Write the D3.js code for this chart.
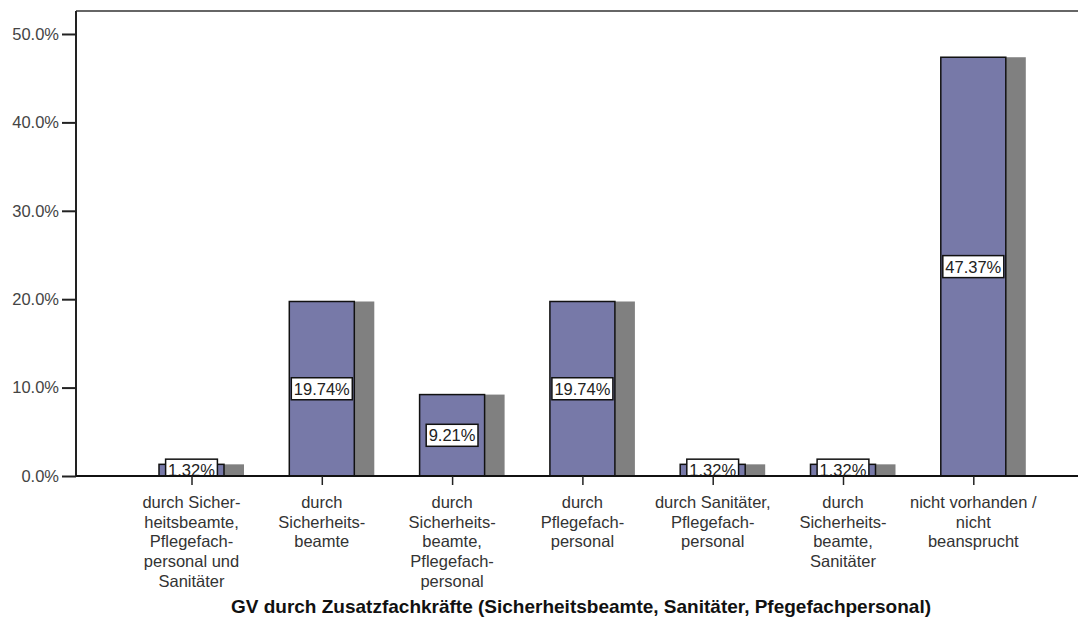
<!DOCTYPE html>
<html>
<head>
<meta charset="utf-8">
<script src="https://cdn.jsdelivr.net/npm/d3@7"></script>
<style>
  html, body { margin: 0; padding: 0; background: #fff; }
  svg { display: block; font-family: "Liberation Sans", Arial, sans-serif; }
</style>
</head>
<body>
<svg id="chart" width="1078" height="619"></svg>
<script>
// Category labels (multi-line, as printed under each bar)
const categories = [
  ["durch Sicher-", "heitsbeamte,", "Pflegefach-", "personal und", "Sanitäter"],
  ["durch", "Sicherheits-", "beamte"],
  ["durch", "Sicherheits-", "beamte,", "Pflegefach-", "personal"],
  ["durch", "Pflegefach-", "personal"],
  ["durch Sanitäter,", "Pflegefach-", "personal"],
  ["durch", "Sicherheits-", "beamte,", "Sanitäter"],
  ["nicht vorhanden /", "nicht", "beansprucht"]
];
// Percent of cases per category
const values = [1.32, 19.74, 9.21, 19.74, 1.32, 1.32, 47.37];
const yTicks = [0, 10, 20, 30, 40, 50];
const xTitle = "GV durch Zusatzfachkräfte (Sicherheitsbeamte, Sanitäter, Pfegefachpersonal)";

const svg = d3.select("#chart");
const plotL = 76, plotR = 1078, plotT = 11, plotB = 476;
const barW = 65, depth = 20;

const x = d3.scalePoint()
  .domain(d3.range(values.length))
  .range([126.35, 1038.45])
  .padding(0.5);

const y = d3.scaleLinear()
  .domain([0, 52.6])
  .range([plotB, plotT]);

// clip so value boxes never spill below the baseline
svg.append("clipPath").attr("id", "plotclip")
  .append("rect").attr("x", plotL).attr("y", plotT)
  .attr("width", plotR - plotL).attr("height", plotB - plotT);

const plot = svg.append("g");

// shadow (depth) behind each bar
plot.selectAll("rect.shadow").data(values).join("rect")
  .attr("class", "shadow")
  .attr("x", (d, i) => x(i) - barW / 2 + depth)
  .attr("y", d => y(d))
  .attr("width", barW)
  .attr("height", d => plotB - y(d))
  .attr("fill", "#808080");

// bars
plot.selectAll("rect.bar").data(values).join("rect")
  .attr("class", "bar")
  .attr("x", (d, i) => x(i) - barW / 2)
  .attr("y", d => y(d))
  .attr("width", barW)
  .attr("height", d => plotB - y(d))
  .attr("fill", "#7779a8")
  .attr("stroke", "#111")
  .attr("stroke-width", 1.5);

// value boxes at half bar height
const labels = svg.append("g").attr("clip-path", "url(#plotclip)");
values.forEach((v, i) => {
  const cy = (y(v) + plotB) / 2;
  const g = labels.append("g");
  const box = g.append("rect");
  const t = g.append("text")
    .attr("x", x(i))
    .attr("y", cy + 6)
    .attr("text-anchor", "middle")
    .attr("font-size", 16.5)
    .attr("fill", "#222")
    .text(v.toFixed(2) + "%");
  const w = t.node().getComputedTextLength() + 5;
  box.attr("x", x(i) - w / 2)
    .attr("y", cy - 11)
    .attr("width", w)
    .attr("height", 22)
    .attr("fill", "#fff")
    .attr("stroke", "#111")
    .attr("stroke-width", 1.5);
});

// frame: top border
svg.append("line")
  .attr("x1", plotL).attr("x2", plotR).attr("y1", plotT).attr("y2", plotT)
  .attr("stroke", "#666").attr("stroke-width", 2);

// y axis
const yAxis = d3.axisLeft(y)
  .tickValues(yTicks)
  .tickSize(14)
  .tickPadding(3)
  .tickFormat(d => d.toFixed(1) + "%");
const ya = svg.append("g").attr("transform", `translate(${plotL},0)`).call(yAxis);
ya.select(".domain").attr("stroke", "#222").attr("stroke-width", 2)
  .attr("d", `M0,${plotT}V${plotB}`);
ya.selectAll(".tick line").attr("stroke", "#222").attr("stroke-width", 2);
ya.selectAll(".tick text").attr("font-size", 16.5).attr("fill", "#444")
  .attr("font-family", "'Liberation Sans', Arial, sans-serif");

// x axis baseline with category ticks
const xAxis = d3.axisBottom(x).tickSize(9).tickFormat("");
const xa = svg.append("g").attr("transform", `translate(0,${plotB})`).call(xAxis);
xa.select(".domain").attr("stroke", "#111").attr("stroke-width", 2)
  .attr("d", `M${plotL},0H${plotR}`);
xa.selectAll(".tick line").attr("stroke", "#222").attr("stroke-width", 1.5);

// category labels
const cat = svg.append("g");
categories.forEach((lines, i) => {
  const t = cat.append("text")
    .attr("text-anchor", "middle")
    .attr("font-size", 16.5)
    .attr("fill", "#333");
  lines.forEach((ln, j) => {
    t.append("tspan").attr("x", x(i)).attr("y", 508 + j * 19.7).text(ln);
  });
});

// axis title
svg.append("text")
  .attr("x", 581)
  .attr("y", 613)
  .attr("text-anchor", "middle")
  .attr("font-size", 19)
  .attr("font-weight", "bold")
  .attr("fill", "#111")
  .text(xTitle);
</script>
</body>
</html>
